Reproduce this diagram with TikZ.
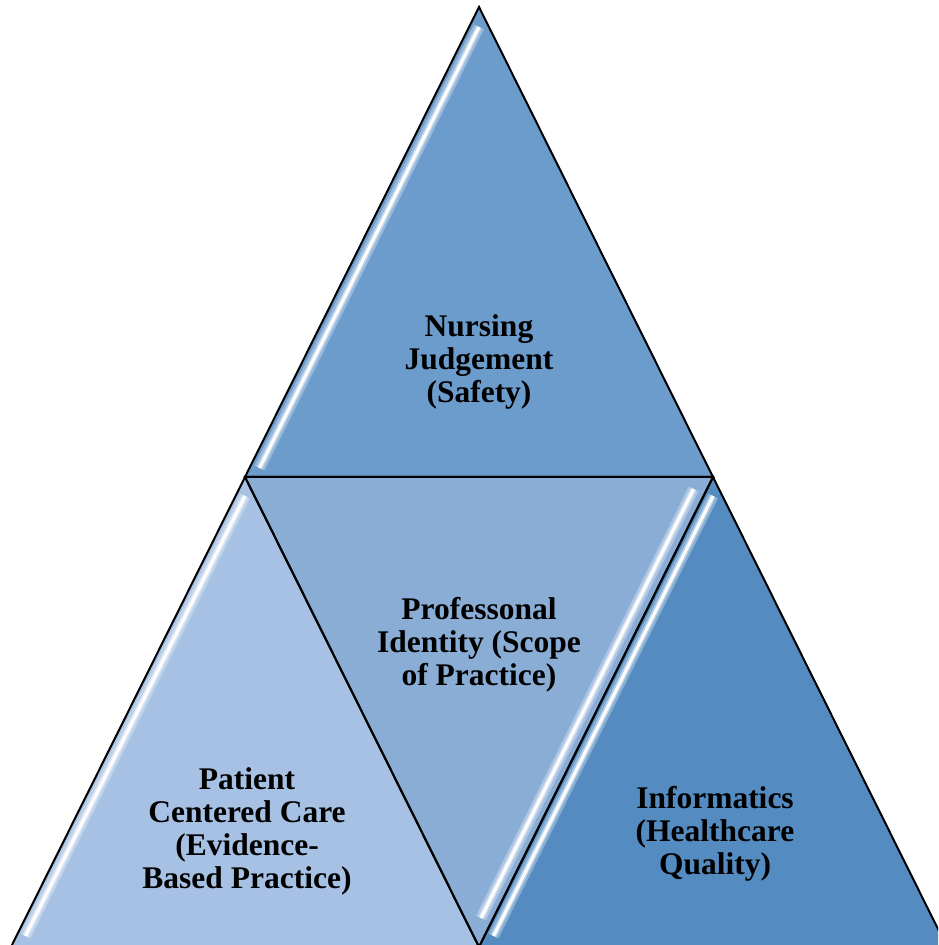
\documentclass[tikz,border=0pt]{standalone}
\usepackage{fontspec}
\setmainfont{Liberation Serif}
\usetikzlibrary{calc}
\definecolor{topblue}{HTML}{6C9CCC}
\definecolor{midblue}{HTML}{8AADD6}
\definecolor{leftblue}{HTML}{A6C1E3}
\definecolor{rightblue}{HTML}{548BC1}
\tikzset{
  tri/.style={draw=black, line width=2pt, line join=miter},
  glow/.style={draw=white, opacity=.3, line width=11pt, line cap=butt},
  glowb/.style={draw=white, opacity=.45, line width=6pt, line cap=butt},
  core/.style={draw=white, opacity=.95, line width=3pt, line cap=butt},
  lbl/.style={align=center, font=\fontsize{31.5}{33}\selectfont\bfseries, text=black, inner sep=0pt}
}
\begin{document}
\begin{tikzpicture}[x=1pt,y=1pt]
\useasboundingbox (0,0) rectangle (938,945);
\clip (0,0) rectangle (938,945);
% vertices
\coordinate (apex) at (479,938);
\coordinate (ml) at (245,468);
\coordinate (mr) at (713,468);
\coordinate (bl) at (11,-2);
\coordinate (bm) at (479,-2);
\coordinate (br) at (947,-2);
% triangles
\fill[topblue] (apex) -- (ml) -- (mr) -- cycle;
\fill[leftblue] (ml) -- (bl) -- (bm) -- cycle;
\fill[midblue] (ml) -- (mr) -- (bm) -- cycle;
\fill[rightblue] (mr) -- (bm) -- (br) -- cycle;
% highlight stripes
\coordinate (hts) at (479,918);
\coordinate (hte) at (259.5,477);
\coordinate (hls) at (245,449);
\coordinate (hle) at (25.5,9);
\coordinate (hrs) at (713,449);
\coordinate (hre) at (493.5,9);
\coordinate (hms) at (693.6,456);
\coordinate (hme) at (481,27);
\foreach \s/\e in {hts/hte, hls/hle, hrs/hre, hms/hme}{
  \draw[glow] (\s) -- (\e);
  \draw[glowb] (\s) -- (\e);
  \draw[core] (\s) -- (\e);
}
% outlines
\draw[tri] (apex) -- (ml) -- (mr) -- cycle;
\draw[tri] (ml) -- (bl) -- (bm) -- cycle;
\draw[tri] (ml) -- (mr) -- (bm) -- cycle;
\draw[tri] (mr) -- (bm) -- (br) -- cycle;
% labels
\node[lbl] (nj) at (479,583) {Nursing\\Judgement\\(Safety)};
\node[lbl] (pi) at (479,300) {Professonal\\Identity (Scope\\of Practice)};
\node[lbl] (pc) at (247,114) {Patient\\Centered Care\\(Evidence-\\Based Practice)};
\node[lbl] (inf) at (715,111) {Informatics\\(Healthcare\\Quality)};
\end{tikzpicture}
\end{document}
